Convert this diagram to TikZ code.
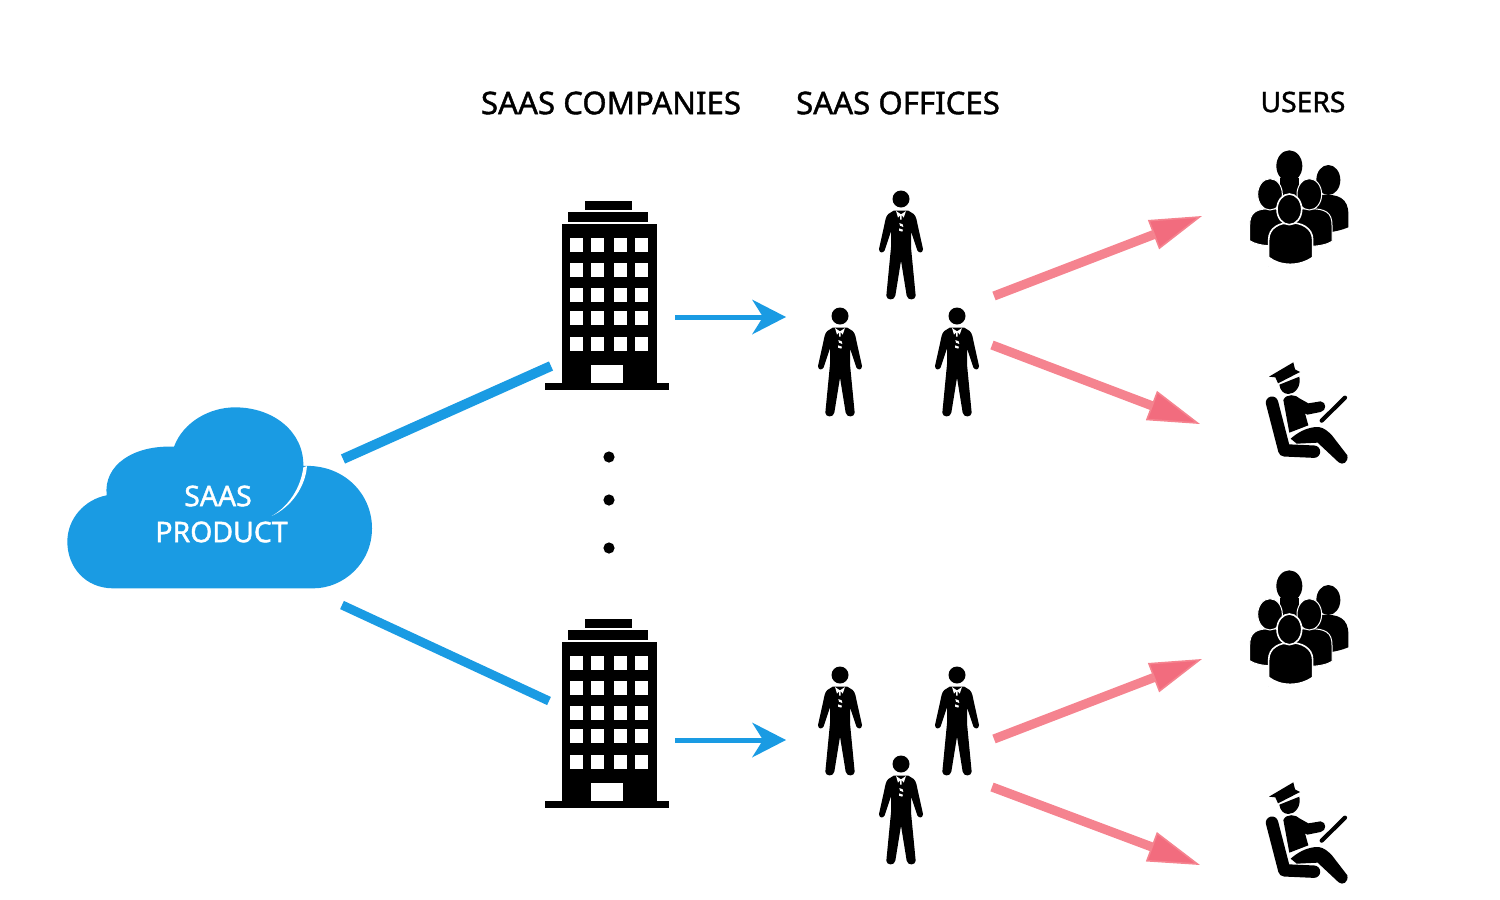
\documentclass[tikz,border=0pt]{standalone}
\usepackage{fontspec}
\setmainfont{Noto Sans}
\newfontfamily\labelfont[FakeBold=1.3]{Noto Sans}
\usetikzlibrary{arrows.meta}
\definecolor{cloudblue}{HTML}{1A9BE3}
\definecolor{pinkline}{HTML}{F5838F}
\definecolor{pinkhead}{HTML}{F26C7E}
\tikzset{
  heading/.style={font=\labelfont\fontsize{15.6pt}{18pt}\selectfont,text=black,inner sep=0pt,anchor=center},
  cloudtext/.style={font=\labelfont\fontsize{14.2pt}{17pt}\selectfont,text=white,inner sep=0pt,anchor=center},
  bluebar/.style={draw=cloudblue,line cap=butt},
  bluearrow/.style={draw=cloudblue,line width=2.5pt,-{Stealth[length=17pt,width=17.5pt,inset=5.5pt,line width=0pt]}},
  pinkarrow/.style={draw=pinkline,line width=4.6pt,-{Triangle[length=26pt,width=15.5pt,fill=pinkhead,color=pinkline,line width=0.8pt]}},
  dot/.style={circle,fill=black,inner sep=0pt,minimum size=5.6pt},
  zoomed/.style={x=0.16667pt,y=-0.16667pt},
  bodypart/.style={fill=black,draw=white,line width=0.5pt},
}
% building: origin = left end of base, top of roof block
\newcommand{\buildingicon}[2]{%
\begin{scope}[shift={(#1,#2)}]
  \fill (40,0) rectangle (87,9);
  \fill (23,11) rectangle (103,21);
  \fill (17,23) rectangle (111.5,184);
  \fill (0,182) rectangle (124,189);
  \fill[white] (46.3,163.7) rectangle (77.7,182);
  \foreach \wy in {36.7,62,87.3,110.3,136}{
    \foreach \wx in {25,46.3,69.3,90.3}{
      \fill[white] (\wx,\wy) rectangle ++(13,14);
    }
  }
\end{scope}}
% person: origin = head centre, zoom units
\newcommand{\personicon}[2]{%
\begin{scope}[shift={(#1,#2)},zoomed]
  \fill (0,0) circle[radius=25.5];
  \fill (-22,35) -- (-38,45) .. controls (-46,52) and (-48,68) .. (-50,78)
    -- (-66,150) .. controls (-66,162) and (-54,164) .. (-49,154)
    -- (-30,97) -- (-30,145) -- (-44,290)
    .. controls (-44,304) and (-20,306) .. (-17,290)
    -- (0,185) -- (17,290)
    .. controls (20,306) and (44,304) .. (44,290)
    -- (30,145) -- (30,97) -- (49,154)
    .. controls (54,164) and (66,162) .. (66,150)
    -- (50,78) .. controls (48,68) and (46,52) .. (38,45)
    -- (22,35) -- cycle;
  \fill[white] (-15,36) -- (0,46) -- (15,36) -- (8,56) -- (2,48) -- (2,62) -- (-3,62) -- (-3,50) -- (-9,56) -- cycle;
  \fill[white] (-5,72) -- (5,76) -- (7,84) -- (-3,80) -- cycle;
  \fill[white] (-6,88) -- (6,92) -- (4,98) -- (-6,95) -- cycle;
\end{scope}}
\newcommand{\bodyat}[4]{% cx, top, halfwidth, bottom
  \path[bodypart] ({#1-#3},{#4-18}) -- ({#1-#3},{#2+50})
    .. controls ({#1-#3},{#2+12}) and ({#1-#3+18},{#2}) .. (#1,#2)
    .. controls ({#1+#3-18},{#2}) and ({#1+#3},{#2+12}) .. ({#1+#3},{#2+50})
    -- ({#1+#3},{#4-18})
    .. controls ({#1+#3-30},{#4+2}) and ({#1-#3+30},{#4+2}) .. ({#1-#3},{#4-18}) -- cycle;}
% crowd: origin = left/top of zoom crop
\newcommand{\crowdicon}[2]{%
\begin{scope}[shift={(#1,#2)},zoomed]
  \fill (150,115) rectangle (206,175);
  \fill (178,78) ellipse[x radius=39,y radius=47];
  \path[bodypart,draw=none] (270,165) .. controls (325,160) and (355,175) .. (355,222) -- (355,262)
     .. controls (335,270) and (315,275) .. (295,277) -- (250,200) -- cycle;
  \fill (295,120) ellipse[x radius=36,y radius=45];
  \bodyat{122}{206}{63}{320}
  \path[fill=black,draw=white,line width=0.5pt] (120,163) ellipse[x radius=37,y radius=47];
  \bodyat{238}{206}{68}{322}
  \path[fill=black,draw=white,line width=0.5pt] (238,163) ellipse[x radius=37,y radius=47];
  \path[fill=black,draw=white,line width=0.8pt] (116,380) -- (116,300) .. controls (116,262) and (150,248) .. (181,248)
     .. controls (212,248) and (248,262) .. (248,300) -- (248,352) .. controls (210,380) and (150,380) .. (116,352) -- cycle;
  \path[fill=black,draw=white,line width=0.8pt] (178,208) ellipse[x radius=37,y radius=46];
\end{scope}}
% pilot: origin = left/top of zoom crop
\newcommand{\piloticon}[2]{%
\begin{scope}[shift={(#1,#2)},zoomed]
  \fill (57,80) -- (130,37) -- (135,58) -- (150,66) -- (84,100) -- (76,82) -- cycle;
  \fill (88,104) -- (148,80) .. controls (154,110) and (135,132) .. (115,132) .. controls (100,132) and (90,120) .. (88,104) -- cycle;
  \draw[line width=6.2pt,line cap=round,line join=round] (66,158) -- (103,301) -- (192,305);
  \fill (100,150) .. controls (108,130) and (138,133) .. (150,146) -- (175,160) -- (212,154)
     .. controls (230,156) and (230,182) .. (212,186) -- (172,194) -- (165,190) -- (175,226) -- (118,248) -- cycle;
  \fill (122,266) .. controls (140,250) and (170,230) .. (206,231)
     .. controls (222,233) and (235,245) .. (245,255) -- (292,316)
     .. controls (296,337) and (278,347) .. (266,337) -- (203,278) -- (140,281) -- cycle;
  \draw[line width=2.1pt,line cap=round] (215,212) -- (285,143);
\end{scope}}
\begin{document}
\begin{tikzpicture}[x=0.5pt,y=-0.5pt]
\useasboundingbox (0,0) rectangle (1500,900);
% headings
\node[heading] (hcomp) at (611,103) {SAAS COMPANIES};
\node[heading] (hoff) at (898,103) {SAAS OFFICES};
\node[heading,font=\labelfont\fontsize{14.1pt}{17pt}\selectfont] (husers) at (1303,102) {USERS};
% cloud
\fill[cloudblue,shift={(50,390)},zoomed]
  (190,595) .. controls (105,595) and (52,530) .. (52,455)
  .. controls (52,385) and (105,328) .. (170,316)
  .. controls (160,225) and (250,165) .. (372,170)
  .. controls (400,95) and (480,52) .. (555,52)
  .. controls (670,52) and (762,125) .. (760,228)
  .. controls (880,222) and (966,310) .. (966,415)
  .. controls (966,520) and (880,595) .. (790,595) -- cycle;
\fill[white,shift={(50,390)},zoomed] (771,228) .. controls (766,290) and (725,350) .. (665,378)
  .. controls (715,350) and (752,295) .. (760,232) -- cycle;
\node[cloudtext] (csaas) at (218,496) {SAAS};
\node[cloudtext] (cprod) at (221.5,532) {PRODUCT};
% cloud connectors
\coordinate (c1) at (343,459);
\coordinate (b1) at (551,366);
\coordinate (c2) at (342,605);
\coordinate (b2) at (549,701);
\draw[bluebar,line width=5pt] (c1) -- (b1);
\draw[bluebar,line width=4.5pt] (c2) -- (b2);
% buildings
\buildingicon{545}{201}
\buildingicon{545}{619}
% dots
\node[dot] (d1) at (609,457) {};
\node[dot] (d2) at (609,500) {};
\node[dot] (d3) at (609,548) {};
% blue arrows
\coordinate (a1s) at (675,317);
\coordinate (a1e) at (786,317);
\coordinate (a2s) at (675,740);
\coordinate (a2e) at (786,740);
\draw[bluearrow] (a1s) -- (a1e);
\draw[bluearrow] (a2s) -- (a2e);
% people
\personicon{901}{199}
\personicon{840}{316}
\personicon{957}{316}
\personicon{840}{675}
\personicon{957}{675}
\personicon{901}{764}
% pink arrows
\coordinate (p1s) at (994,296);
\coordinate (p1e) at (1202,216);
\coordinate (p2s) at (992,345);
\coordinate (p2e) at (1200,424);
\coordinate (p3s) at (994,739);
\coordinate (p3e) at (1202,659);
\coordinate (p4s) at (992,787);
\coordinate (p4e) at (1200,865);
\draw[pinkarrow] (p1s) -- (p1e);
\draw[pinkarrow] (p2s) -- (p2e);
\draw[pinkarrow] (p3s) -- (p3e);
\draw[pinkarrow] (p4s) -- (p4e);
% user icons
\crowdicon{1230}{140}
\crowdicon{1230}{560}
\piloticon{1250}{350}
\piloticon{1250}{770}
\end{tikzpicture}
\end{document}
